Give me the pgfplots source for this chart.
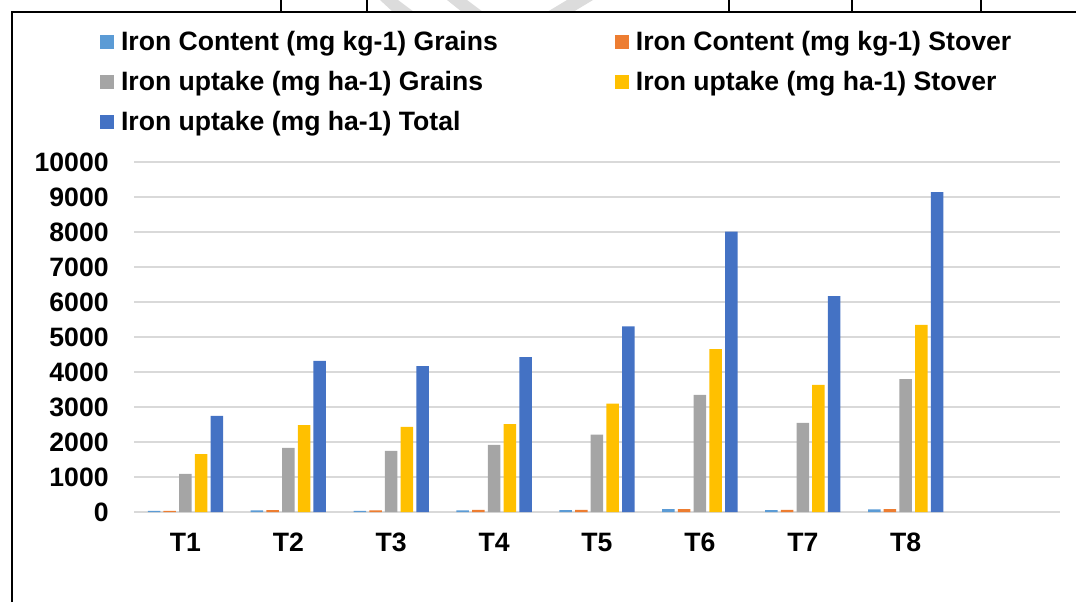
\documentclass[border=0pt]{standalone}
\usepackage{fontspec}
\setmainfont{Liberation Sans}
\usepackage{pgfplots}
\pgfplotsset{compat=1.18}
\definecolor{cA}{HTML}{5B9BD5}
\definecolor{cB}{HTML}{ED7D31}
\definecolor{cC}{HTML}{A5A5A5}
\definecolor{cD}{HTML}{FFC000}
\definecolor{cE}{HTML}{4472C4}
\definecolor{gridgray}{HTML}{D9D9D9}
\definecolor{wm}{HTML}{DCDCDC}
\begin{document}
\begin{tikzpicture}
\useasboundingbox (0,0) rectangle (538pt,301pt);
\fill[wm] (190pt,301pt) -- (199pt,301pt) -- (207pt,295pt) -- (196.5pt,295pt) -- cycle;
\fill[wm] (223.5pt,301pt) -- (233.5pt,301pt) -- (241.5pt,295pt) -- (231pt,295pt) -- cycle;
\fill[wm] (283.5pt,301pt) -- (296.5pt,301pt) -- (286.5pt,295pt) -- (273.5pt,295pt) -- cycle;
\draw[line width=1pt] (6pt,0) -- (6pt,295pt) -- (538pt,295pt);
\foreach \x in {281,367,729,852,981} {\draw[line width=1pt] (\x*0.5pt,295pt) -- (\x*0.5pt,301pt);}
\begin{axis}[
  at={(67pt,45pt)}, anchor=south west,
  scale only axis, width=463pt, height=175pt,
  xmin=-0.5, xmax=8.5, ymin=0, ymax=10000,
  ytick={0,1000,...,10000},
  scaled y ticks=false,
  xtick={0,...,7}, xticklabels={T1,T2,T3,T4,T5,T6,T7,T8},
  major tick length=0pt,
  axis line style={draw=none},
  ymajorgrids, grid style={color=gridgray, line width=0.9pt},
  ybar=1.6pt, bar width=6.25pt,
  /pgf/number format/assume math mode=true,
  /pgf/number format/1000 sep={},
  /pgf/number format/fixed,
  ticklabel style={font=\bfseries\fontsize{13.3}{16}\selectfont},
  yticklabel style={anchor=east, inner sep=0pt, xshift=-12.5pt},
  xticklabel style={anchor=north, inner sep=0pt, yshift=-10.5pt},
  legend columns=2,
  legend cell align=left,
  legend image code/.code={\fill[#1] (0pt,-2.65pt) rectangle (7pt,4.35pt);},
  legend style={at={(-0.0367,1.373)}, anchor=north west, draw=none, fill=none,
    inner sep=0pt, outer sep=0pt, row sep=7.3pt, column sep=0pt,
    font=\bfseries\fontsize{13.3}{16}\selectfont,
    nodes={inner sep=0pt, text height=9.7pt, text depth=3pt},
    /tikz/every odd column/.append style={column sep=3.5pt},
    /tikz/every even column/.append style={column sep=58.5pt}},
]
\addplot[fill=cA, draw=none] coordinates {(0,30) (1,50) (2,35) (3,45) (4,55) (5,80) (6,55) (7,75)};
\addlegendentry{Iron Content (mg kg-1) Grains}
\addplot[fill=cB, draw=none] coordinates {(0,35) (1,55) (2,45) (3,60) (4,60) (5,85) (6,60) (7,80)};
\addlegendentry{Iron Content (mg kg-1) Stover}
\addplot[fill=cC, draw=none] coordinates {(0,1090) (1,1830) (2,1745) (3,1915) (4,2210) (5,3345) (6,2545) (7,3800)};
\addlegendentry{Iron uptake (mg ha-1) Grains}
\addplot[fill=cD, draw=none] coordinates {(0,1655) (1,2485) (2,2430) (3,2510) (4,3095) (5,4655) (6,3630) (7,5345)};
\addlegendentry{Iron uptake (mg ha-1) Stover}
\addplot[fill=cE, draw=none] coordinates {(0,2745) (1,4315) (2,4170) (3,4425) (4,5305) (5,8010) (6,6170) (7,9140)};
\addlegendentry{Iron uptake (mg ha-1) Total}
\end{axis}
\end{tikzpicture}
\end{document}
